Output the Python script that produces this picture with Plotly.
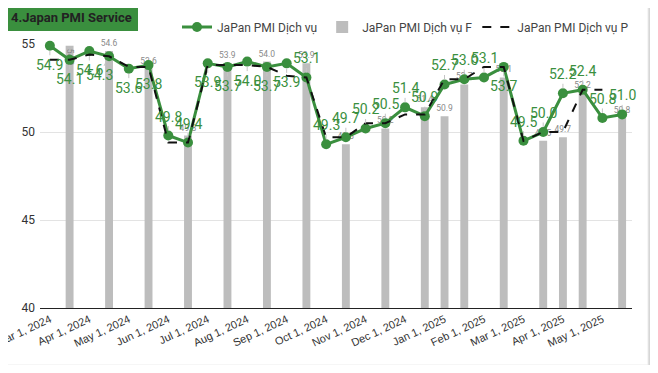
import plotly.graph_objects as go

# ---------------- data ----------------
dates = ["2024-03-01", "2024-03-16", "2024-04-01", "2024-04-16", "2024-05-01", "2024-05-16",
         "2024-06-01", "2024-06-16", "2024-07-01", "2024-07-16", "2024-08-01", "2024-08-16",
         "2024-09-01", "2024-09-16", "2024-10-01", "2024-10-16", "2024-11-01", "2024-11-16",
         "2024-12-01", "2024-12-16", "2025-01-01", "2025-01-16", "2025-02-01", "2025-02-16",
         "2025-03-01", "2025-03-16", "2025-04-01", "2025-04-16", "2025-05-01", "2025-05-16"]

pmi_service = [54.9, 54.1, 54.6, 54.3, 53.6, 53.8, 49.8, 49.4, 53.9, 53.7, 54.0, 53.7,
               53.9, 53.1, 49.3, 49.7, 50.2, 50.5, 51.4, 50.9, 52.7, 53.0, 53.1, 53.7,
               49.5, 50.0, 52.2, 52.4, 50.8, 51.0]

pmi_p = [54.1, 54.1, 54.4, 54.3, 53.7, 53.7, 49.4, 49.4, 53.8, 53.8, 53.8, 53.7,
         53.2, 53.1, 49.7, 49.7, 50.5, 50.5, 51.0, 51.0, 53.0, 53.0, 53.7, 53.7,
         49.5, 50.0, 50.0, 52.4, 52.4, None]

bar_dates = ["2024-03-16", "2024-04-16", "2024-05-16", "2024-06-16", "2024-07-16", "2024-08-16",
             "2024-09-16", "2024-10-16", "2024-11-16", "2024-12-16", "2025-01-01", "2025-01-16",
             "2025-02-16", "2025-03-16", "2025-04-01", "2025-04-16", "2025-05-16"]
pmi_f = [54.9, 54.6, 53.6, 49.8, 53.9, 54.0, 53.9, 49.3, 50.2, 51.4, 50.9, 52.7,
         53.1, 49.5, 49.7, 52.2, 50.8]

tick_dates = ["2024-03-01", "2024-04-01", "2024-05-01", "2024-06-01", "2024-07-01",
              "2024-08-01", "2024-09-01", "2024-10-01", "2024-11-01", "2024-12-01",
              "2025-01-01", "2025-02-01", "2025-03-01", "2025-04-01", "2025-05-01"]
tick_labels = ["Mar 1, 2024", "Apr 1, 2024", "May 1, 2024", "Jun 1, 2024", "Jul 1, 2024",
               "Aug 1, 2024", "Sep 1, 2024", "Oct 1, 2024", "Nov 1, 2024", "Dec 1, 2024",
               "Jan 1, 2025", "Feb 1, 2025", "Mar 1, 2025", "Apr 1, 2025", "May 1, 2025"]

# ---------------- style ----------------
GREEN = "#3a8f3e"
GREY_BAR = "#bdbdbd"
FONT = "Roboto"
# label placement for the green series: +1 above, -1 below
label_side = [-1, -1, -1, -1, -1, -1, 1, 1, -1, -1, -1, -1, -1, 1, 1,
              1, 1, 1, 1, 1, 1, 1, 1, -1, 1, 1, 1, 1, 1, 1]
label_dx = {3: -10}
bar_text_pos = ["inside"] + ["outside"] * (len(pmi_f) - 1)

# The page has an 8px body margin, so the figure is drawn offset by (8, 8).
OFF = 8
W, H = 650, 357
ML, MT = 40 - OFF, 44 - OFF
MR = W - (632 - OFF)
MB = H - (308 - OFF)
PW, PH = W - ML - MR, H - MT - MB


def px(xp):  # page pixel -> paper x
    return (xp - OFF - ML) / PW


def py(yp):  # page pixel -> paper y
    return (H - MB - (yp - OFF)) / PH


fig = go.Figure()

fig.add_trace(go.Bar(
    x=bar_dates, y=pmi_f, name="JaPan PMI Dịch vụ F",
    marker=dict(color=GREY_BAR, line=dict(width=0)), width=0.4,
    text=[f"{v:.1f}" for v in pmi_f], textposition=bar_text_pos, constraintext="none",
    insidetextanchor="end",
    textfont=dict(size=8.5, color="#8a8a8a", family=FONT), cliponaxis=False,
))

fig.add_trace(go.Scatter(
    x=dates, y=pmi_service, name="JaPan PMI Dịch vụ", mode="lines+markers",
    line=dict(color=GREEN, width=3), marker=dict(color=GREEN, size=10),
    cliponaxis=False,
))

fig.add_trace(go.Scatter(
    x=dates, y=pmi_p, name="JaPan PMI Dịch vụ P", mode="lines",
    line=dict(color="#111111", width=2, dash="dash"), connectgaps=False,
))

annotations = []
for i, (d, v) in enumerate(zip(dates, pmi_service)):
    annotations.append(dict(
        x=d, y=v, xref="x", yref="y", text=f"{v:.1f}",
        showarrow=True, arrowhead=0, arrowwidth=1, arrowcolor="#c4c4c4",
        ax=label_dx.get(i, 0), ay=-19 * label_side[i], standoff=5,
        font=dict(size=14, color=GREEN, family=FONT),
    ))

# title
annotations.append(dict(
    x=px(71), y=py(17.5), xref="paper", yref="paper", showarrow=False,
    text="<b>4.Japan PMI Service</b>", font=dict(size=13, color="#222222", family=FONT),
    xanchor="center", yanchor="middle",
))

shapes = [
    # card shadow
    dict(type="rect", xref="paper", yref="paper", x0=px(6), x1=px(651), y0=py(369), y1=py(5),
         fillcolor="#d6d6d6", line=dict(width=0), layer="below"),
    # card
    dict(type="rect", xref="paper", yref="paper", x0=px(4), x1=px(648), y0=py(365), y1=py(3),
         fillcolor="white", line=dict(color="#ececec", width=1), layer="below"),
    # title box
    dict(type="rect", xref="paper", yref="paper", x0=px(5), x1=px(138), y0=py(31), y1=py(4),
         fillcolor=GREEN, line=dict(width=0), layer="below"),
]

fig.update_layout(
    width=W, height=H,
    margin=dict(l=ML, r=MR, t=MT, b=MB, autoexpand=False),
    paper_bgcolor="white", plot_bgcolor="rgba(0,0,0,0)",
    font=dict(family=FONT, color="#333333"),
    showlegend=True,
    legend=dict(orientation="h", x=px(634), xanchor="right", y=py(27), yanchor="middle",
                font=dict(size=12, color="#444444", family=FONT),
                traceorder="normal", itemwidth=30, bgcolor="rgba(0,0,0,0)"),
    xaxis=dict(type="category", categoryorder="array", categoryarray=dates,
               range=[-0.5, len(dates) - 0.5], automargin=False,
               tickmode="array", tickvals=tick_dates, ticktext=tick_labels,
               tickangle=-25, tickfont=dict(size=11, color="#333333", family="Liberation Sans"),
               showgrid=False, showline=True, linecolor="#222222", linewidth=1,
               ticks="", zeroline=False),
    yaxis=dict(range=[40, 55], tickvals=[40, 45, 50, 55], automargin=False,
               tickfont=dict(size=12, color="#333333", family=FONT),
               showgrid=True, gridcolor="#e3e3e3", gridwidth=1, zeroline=False,
               ticks="", showline=False, ticklabelstandoff=4),
    annotations=annotations,
    shapes=shapes,
    bargap=0.6,
)

# legend order: line, bar, dashed
fig.data[0].legendrank = 2
fig.data[1].legendrank = 1
fig.data[2].legendrank = 3

fig.write_html("out.html")
